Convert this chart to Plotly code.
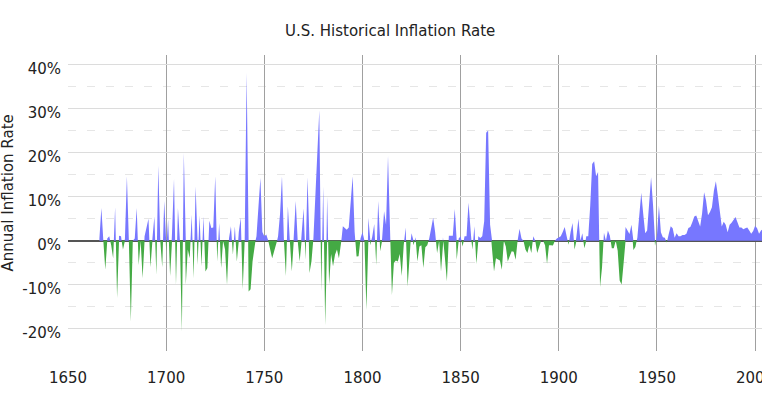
import numpy as np
import plotly.graph_objects as go

# ---- data: annual inflation rate (%) ----
start_year = 1666
rates = [
    # 1666-1669
    0.5, 7.4, 0.0, -6.6,
    # 1670s
    0.5, 1.0, -1.0, -4.0, 7.6, -13.0, 1.1, 1.0, -2.0, 0.5,
    # 1680s
    14.6, 0.0, -18.3, 0.0, 0.5, 7.4, -5.5, 0.0, -8.5, 1.0,
    # 1690s
    3.0, 5.0, -6.0, 0.5, 5.5, -7.7, 17.0, 0.0, -6.0, 9.0,
    # 1700s
    -2.4, 4.8, -8.0, 2.0, 14.0, -10.0, 7.4, 0.0, -20.6, 19.9,
    # 1710s
    -10.0, -2.0, -4.0, 5.9, -8.5, 12.3, -5.5, 5.7, -5.8, 5.5,
    # 1720s
    -7.0, -6.2, 4.5, 2.9, 3.0, 14.6, -4.7, 4.0, -6.2, 0.0,
    # 1730s
    -2.0, -10.0, 0.5, 3.3, -3.2, 3.3, -4.7, 2.0, 5.2, -11.0,
    # 1740s
    0.0, 38.0, -11.5, -11.0, -4.7, -1.0, 1.0, 8.0, 14.2, 2.0,
    # 1750s
    1.0, 1.4, 0.0, -2.0, -4.0, -2.4, -1.0, 1.0, 6.0, 14.6,
    # 1760s
    0.0, -8.0, 7.8, 0.0, -7.0, 1.0, 9.0, 0.0, -4.7, 1.5,
    # 1770s
    7.3, -4.3, 14.4, -7.3, -4.7, 0.5, 10.0, 18.0, 29.5, -11.5,
    # 1780s
    12.3, -19.2, 10.0, -10.0, -3.0, -5.8, -3.2, -2.0, -4.0, -1.0,
    # 1790s
    3.3, 2.9, 2.5, 3.0, 8.0, 14.6, 2.0, -3.6, -3.5, 0.5,
    # 1800s
    2.0, 0.0, -15.7, 5.2, -1.0, 1.0, 3.8, -5.5, 9.0, -2.4,
    # 1810s
    0.5, 6.7, 3.6, 19.2, 3.0, -12.3, -5.0, -4.5, -4.7, -3.0,
    # 1820s
    -8.0, -1.0, 3.0, -10.4, -2.0, 1.7, -1.0, 0.8, -4.7, -1.3,
    # 1830s
    -1.0, -6.2, -1.5, -1.0, 0.5, 2.9, 5.2, 2.0, -2.8, 0.5,
    # 1840s
    -7.0, 0.8, -4.0, -9.2, 1.1, 1.1, 1.1, 7.2, -4.3, 0.5,
    # 1850s
    1.0, -1.3, 1.0, 1.0, 8.6, 2.0, -2.0, 3.3, -5.3, 1.0,
    # 1860s
    0.6, 1.0, 4.4, 24.5, 25.0, 3.6, -2.0, -7.0, -4.0, -4.3,
    # 1870s
    -4.5, -6.6, 0.0, -1.3, -4.7, -3.5, -2.4, -2.5, -4.3, 0.0,
    # 1880s
    2.7, 0.5, 0.0, -2.0, -2.8, -1.0, -2.8, 1.0, 0.0, -2.8,
    # 1890s
    -1.3, 0.0, 0.0, -1.0, -5.2, -1.0, -1.0, -1.1, 0.0, 0.5,
    # 1900s
    0.8, 1.0, 2.0, 3.1, 1.0, -0.9, 2.0, 4.0, -2.0, 1.0,
    # 1910s
    5.0, 0.0, 1.7, -1.7, 1.0, 1.0, 7.9, 17.4, 18.0, 14.6,
    # 1920s
    15.6, -10.5, -6.1, 1.8, 0.0, 2.3, 1.1, -1.7, -1.7, 0.0,
    # 1930s
    -2.3, -9.0, -9.9, -5.1, 3.1, 2.2, 1.5, 3.6, -2.1, -1.4,
    # 1940s
    0.7, 5.0, 10.9, 6.1, 1.7, 2.3, 8.3, 14.4, 8.1, -1.2,
    # 1950s
    1.3, 7.9, 1.9, 0.8, 0.7, -0.4, 1.5, 3.3, 2.8, 0.7,
    # 1960s
    1.7, 1.0, 1.0, 1.3, 1.3, 1.6, 2.9, 3.1, 4.2, 5.5,
    # 1970s
    5.7, 4.4, 3.2, 6.2, 11.0, 9.1, 5.8, 6.5, 7.6, 11.3,
    # 1980s
    13.5, 10.3, 6.2, 3.2, 4.3, 3.6, 1.9, 3.6, 4.1, 4.8,
    # 1990s
    5.4, 4.2, 3.0, 3.0, 2.6, 2.8, 3.0, 2.3, 1.6, 2.2,
    # 2000s
    3.4, 2.8, 1.6, 2.3, 2.7,
]
years = list(range(start_year, start_year + len(rates)))

y_ticks = [-20, -10, 0, 10, 20, 30, 40]
y_labels = [f"{t}%" for t in y_ticks]

BLUE = "#7777ff"
GREEN = "#44aa44"


# split into positive / negative parts, adding the zero crossings
def split_sign(xs, ys):
    px, py = [], []
    for i in range(len(xs)):
        if i > 0 and ys[i - 1] * ys[i] < 0:
            x0, y0, x1, y1 = xs[i - 1], ys[i - 1], xs[i], ys[i]
            xc = x0 + (x1 - x0) * (-y0) / (y1 - y0)
            px.append(xc)
            py.append(0.0)
        px.append(xs[i])
        py.append(ys[i])
    py = np.array(py)
    return np.array(px), np.maximum(py, 0), np.minimum(py, 0)


sx, pos, neg = split_sign(years, rates)

fig = go.Figure()
fig.add_trace(go.Scatter(
    x=sx, y=pos, mode="lines", fill="tozeroy",
    line=dict(width=0, color=BLUE), fillcolor=BLUE,
    hoverinfo="skip", showlegend=False,
))
fig.add_trace(go.Scatter(
    x=sx, y=neg, mode="lines", fill="tozeroy",
    line=dict(width=0, color=GREEN), fillcolor=GREEN,
    hoverinfo="skip", showlegend=False,
))

fig.update_layout(
    template="none",
    width=762, height=400,
    margin=dict(l=68, r=0, t=55, b=49),
    paper_bgcolor="white", plot_bgcolor="white",
    font=dict(family="DejaVu Sans", size=15, color="#222"),
    title=dict(
        text="U.S. Historical Inflation Rate",
        x=0.512, xanchor="center", y=0.9225, yanchor="middle",
        yref="container", font=dict(size=15, color="#222"),
    ),
    showlegend=False,
    xaxis=dict(
        range=[1650, 2003.5], dtick=50, tick0=1650,
        showgrid=True, gridcolor="#a0a0a0", gridwidth=1,
        zeroline=False, showline=False, ticks="",
        ticklabelstandoff=16, ticklabeloverflow="allow",
        automargin=False,
    ),
    yaxis=dict(
        range=[-25, 42.1], tickvals=y_ticks, ticktext=y_labels,
        showgrid=True, gridcolor="#dcdcdc", gridwidth=1,
        zeroline=True, zerolinecolor="#555", zerolinewidth=1.5,
        showline=False, ticks="", ticklabelstandoff=6,
        ticklabelshift=4,
        minor=dict(dtick=5, tick0=0, showgrid=True,
                   gridcolor="#e6e6e6", griddash="8px,11px"),
        automargin=False,
    ),
    # y-axis title placed as a rotated annotation (sits a bit above plot centre)
    annotations=[dict(
        text="Annual Inflation Rate", textangle=-90,
        xref="paper", yref="paper", x=-0.0865, y=0.535,
        xanchor="center", yanchor="middle", showarrow=False,
        font=dict(size=15, color="#222"),
    )],
)

# page body has a default 8px margin; drop it so the chart sits at 0,0
fig.write_html(
    "out.html",
    config={"displayModeBar": False},
    post_script="document.body.style.margin='0';document.body.style.overflow='hidden';",
)
